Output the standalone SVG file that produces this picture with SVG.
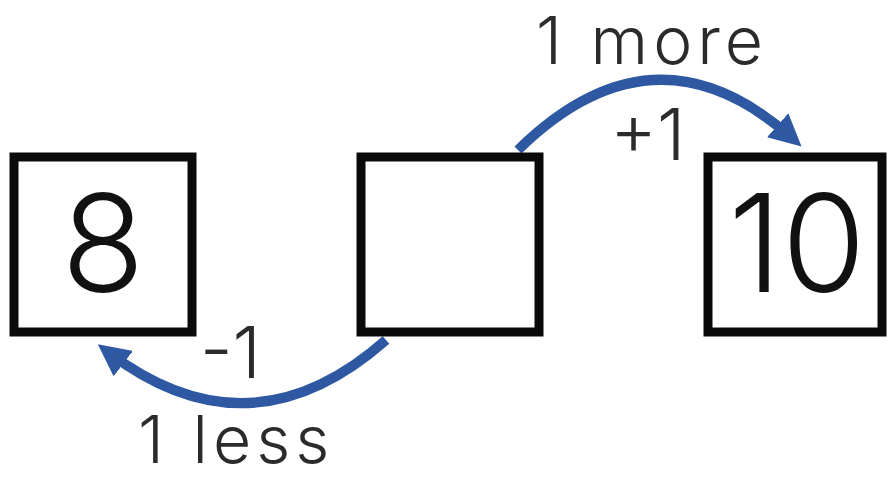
<svg xmlns="http://www.w3.org/2000/svg" width="887" height="480" viewBox="0 0 887 480">
<style>
.box{fill:#fff;stroke:#0a0a0a;stroke-width:9}
.num{font-family:Inter,"Liberation Sans",sans-serif;font-weight:300;font-size:136px;fill:#111;text-anchor:middle}
.lbl{font-family:Inter,"Liberation Sans",sans-serif;font-weight:300;font-size:72px;fill:#2b2b2b}
.edge{font-size:66px;letter-spacing:5px}
.arc{fill:none;stroke:#2f58a3;stroke-width:10;stroke-linecap:butt}
</style>
<defs>
<marker id="ah" viewBox="0 0 10 10" refX="6" refY="5" markerWidth="3.2" markerHeight="3.2" orient="auto" markerUnits="strokeWidth">
<path d="M0,0 L10,5 L0,10 Z" fill="#2f58a3"/>
</marker>
</defs>
<g id="connectors">
<path class="arc" d="M518,150 Q655,16 792,138" marker-end="url(#ah)"/>
<path class="arc" d="M386,340 Q250,460 108,352" marker-end="url(#ah)"/>
</g>
<g id="node-8">
<rect class="box" x="14" y="157" width="178" height="175"/>
<text class="num" x="103" y="292">8</text>
</g>
<g id="node-blank">
<rect class="box" x="361" y="157" width="178" height="175"/>
</g>
<g id="node-10">
<rect class="box" x="708" y="157" width="174" height="175"/>
<text class="num" x="797" y="292">10</text>
</g>
<g id="labels">
<text class="lbl edge" x="536" y="64">1 more</text>
<text class="lbl" x="610" y="160">+1</text>
<text class="lbl" x="200" y="378">-1</text>
<text class="lbl edge" x="138" y="463">1 less</text>
</g>
</svg>
